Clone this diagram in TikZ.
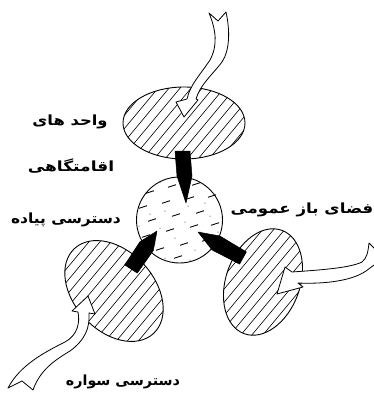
\documentclass[tikz,border=0pt]{standalone}
\usepackage{fontspec}
\usepackage{graphicx}
\newfontfamily\arabicfont[Script=Arabic]{DejaVu Sans}
\TeXXeTstate=1
\begin{document}
\begin{tikzpicture}[x=1pt,y=-1pt,
  outl/.style={line width=0.9pt},
  hatch/.style={line width=0.6pt},
  blk/.style={fill=black,draw=black,line width=0.5pt,line join=round},
  hollow/.style={fill=white,draw=black,line width=0.8pt,line join=round},
  dsh/.style={line width=0.9pt},
  lab/.style={font=\arabicfont\bfseries\fontsize{14}{16}\selectfont, inner sep=0pt}]
\useasboundingbox[fill=white] (0,0) rectangle (373,394);

% centres
\coordinate (top) at (184,123);
\coordinate (cen) at (179.5,220);
\coordinate (bl) at (114,291);
\coordinate (br) at (263,282);

% top hatched ellipse
\begin{scope}
  \clip (top) ellipse [x radius=61, y radius=36];
  \foreach \k in {-14,...,14} \draw[hatch] (184+\k*11-80,123+96) -- ++(160,-192);
\end{scope}
\draw[outl] (top) ellipse [x radius=61, y radius=36];

% bottom-left hatched ellipse
\begin{scope}
  \clip[shift={(bl)},rotate=-47] (0,0) ellipse [x radius=58, y radius=40];
  \foreach \k in {-14,...,14} \draw[hatch] (114+\k*11-80,291+96) -- ++(160,-192);
\end{scope}
\draw[outl,shift={(bl)},rotate=-47] (0,0) ellipse [x radius=58, y radius=40];

% bottom-right hatched ellipse
\begin{scope}
  \clip[shift={(br)},rotate=70] (0,0) ellipse [x radius=55, y radius=37];
  \foreach \k in {-14,...,14} \draw[hatch] (263+\k*11-80,282+96) -- ++(160,-192);
\end{scope}
\draw[outl,shift={(br)},rotate=70] (0,0) ellipse [x radius=55, y radius=37];

% central circle with dashes
\draw[outl,fill=white] (cen) circle [radius=43];
\foreach \x/\y in {150/192,172/186,196/184,
  143/207,166/202,190/198,212/196,
  152/220,176/215,200/212,
  146/236,170/230,194/226,215/224,
  160/249,184/244,206/240,178/257}
  \draw[dsh] (\x-4,\y+1.3) -- (\x+4,\y-1.3);
\foreach \x/\y in {160/182,185/190,205/203,150/214,165/211,188/206,210/216,
  139/226,160/228,185/222,200/232,218/232,155/243,175/238,195/250,165/258,190/260,210/250}
  \fill (\x,\y) circle [radius=0.5];

% hollow arrows
\draw[hollow] (209,13) .. controls (216,30) and (218,45) .. (210,60)
  .. controls (200,75) and (190,85) .. (187,99) -- (176,102) -- (184,117)
  -- (198,100) -- (196,99) .. controls (200,85) and (212,75) .. (222,62)
  .. controls (230,50) and (230,30) .. (226,12) -- (218,21) -- cycle;

\draw[hollow] (378,252) -- (369,243) .. controls (368,252) and (367,258) .. (362,262)
  .. controls (350,268) and (320,270) .. (292,272) -- (285,267) -- (277,294)
  -- (303,287) -- (298,283) .. controls (320,284) and (350,282) .. (366,271)
  .. controls (372,266) .. (378,262) -- cycle;

\draw[hollow] (8,388) .. controls (20,365) and (45,352) .. (65,342)
  .. controls (78,335) and (80,322) .. (78,312) -- (72,311) -- (88,296)
  -- (95,314) -- (89,313) .. controls (90,328) and (85,340) .. (70,351)
  .. controls (55,360) and (40,370) .. (33,390) -- (22,381) -- cycle;

% black arrows
\fill[blk] (175,151) -- (190,151) -- (192,176) -- (186,203) -- (177,176) -- cycle;
\fill[blk] (124.7,264.9) -- (137.3,273.1) -- (153.3,250.6) -- (157,231) -- (139.9,241.8) -- cycle;
\fill[blk] (246.4,251.9) -- (239.6,264.1) -- (212.1,250) -- (198,232) -- (219.9,236) -- cycle;

% labels
\node[lab] (t1) at (70,122) {\scalebox{1.17}[1]{\beginR واحد های\endR}};
\node[lab] (t2) at (71,166) {\scalebox{1.22}[1]{\beginR اقامتگاهی\endR}};
\node[lab] (t3) at (302,210) {\scalebox{1.19}[1]{\beginR فضای باز عمومی\endR}};
\node[lab] (t4) at (66,220) {\scalebox{1.10}[1]{\beginR دسترسی پیاده\endR}};
\node[lab] (t5) at (123,382) {\scalebox{1.02}[1]{\beginR دسترسی سواره\endR}};
\end{tikzpicture}
\end{document}
